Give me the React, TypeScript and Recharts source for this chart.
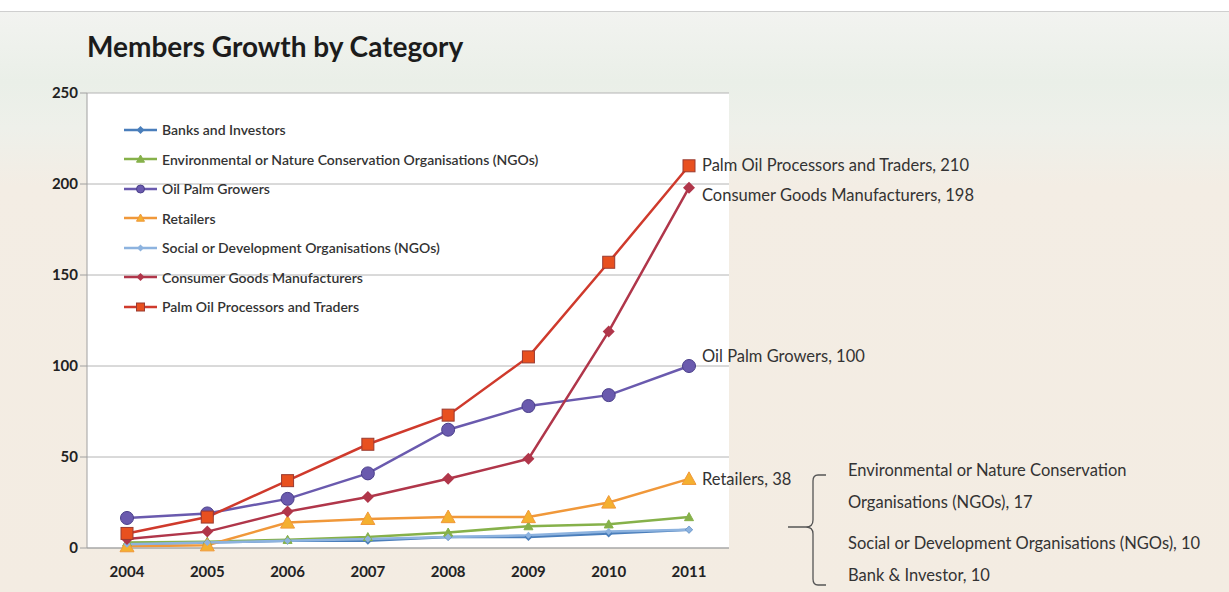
import React from 'react';
import { LineChart, Line, XAxis, YAxis, CartesianGrid, Legend, LabelList } from 'recharts';

const years = ['2004', '2005', '2006', '2007', '2008', '2009', '2010', '2011'];

const banks = [2, 3, 4, 4, 6, 6, 8, 10];
const envNgos = [3, 3.5, 4.5, 6, 8.5, 12, 13, 17];
const growers = [16.5, 19, 27, 41, 65, 78, 84, 100];
const retailers = [1, 1.5, 14, 16, 17, 17, 25, 38];
const socialNgos = [2, 3, 4, 5, 6, 7, 9, 10];
const consumerGoods = [5, 9, 20, 28, 38, 49, 119, 198];
const palmOil = [8, 17, 37, 57, 73, 105, 157, 210];

const yTicks = [0, 50, 100, 150, 200, 250];

type Shape = 'diamond' | 'triangle' | 'circle' | 'square';

const series = [
  { key: 'banks', name: 'Banks and Investors', values: banks, color: '#4a7ebb', shape: 'diamond' as Shape, size: 8, width: 2.5 },
  { key: 'env', name: 'Environmental or Nature Conservation Organisations (NGOs)', values: envNgos, color: '#86b14a', shape: 'triangle' as Shape, size: 9, width: 2.5 },
  { key: 'growers', name: 'Oil Palm Growers', values: growers, color: '#6a5aae', shape: 'circle' as Shape, size: 13, width: 2.5 },
  { key: 'retailers', name: 'Retailers', values: retailers, color: '#f0983a', shape: 'triangle' as Shape, size: 14, width: 2.5 },
  { key: 'social', name: 'Social or Development Organisations (NGOs)', values: socialNgos, color: '#8db3df', shape: 'diamond' as Shape, size: 7, width: 2.5 },
  { key: 'consumer', name: 'Consumer Goods Manufacturers', values: consumerGoods, color: '#b0364a', shape: 'diamond' as Shape, size: 12, width: 2.5 },
  { key: 'palm', name: 'Palm Oil Processors and Traders', values: palmOil, color: '#cf3a2c', shape: 'square' as Shape, size: 12, width: 2.5 },
];

// labels shown next to the 2011 point, with a small vertical nudge
const endLabels: Record<string, number> = { palm: 0, consumer: 8, growers: -9, retailers: 1 };

const data = years.map((year, i) => {
  const row: Record<string, string | number> = { year };
  series.forEach((s) => {
    row[s.key] = s.values[i];
  });
  return row;
});

const font = 'Lato, "Open Sans", sans-serif';

function marker(shape: Shape, cx: number, cy: number, size: number, color: string, key?: string) {
  const h = size / 2;
  if (shape === 'circle') {
    return <circle key={key} cx={cx} cy={cy} r={h} fill={color} stroke="#4a3f8a" strokeWidth={1} />;
  }
  if (shape === 'square') {
    return <rect key={key} x={cx - h} y={cy - h} width={size} height={size} fill="#e8501f" stroke="#9a3a30" strokeWidth={1} />;
  }
  if (shape === 'triangle') {
    return (
      <polygon
        key={key}
        points={`${cx},${cy - h} ${cx + h},${cy + h * 0.8} ${cx - h},${cy + h * 0.8}`}
        fill={color === '#f0983a' ? '#f4b030' : color}
        stroke={color}
        strokeWidth={1}
      />
    );
  }
  return <polygon key={key} points={`${cx},${cy - h} ${cx + h},${cy} ${cx},${cy + h} ${cx - h},${cy}`} fill={color} />;
}

function makeDot(shape: Shape, size: number, color: string) {
  return (props: any) => {
    const { cx, cy, index } = props;
    if (cx == null || cy == null) return <g key={`d-${index}`} />;
    return marker(shape, cx, cy, size, color, `d-${index}`);
  };
}

function makeEndLabel(name: string, dy: number) {
  return (props: any) => {
    const { x, y, index, value } = props;
    if (index !== years.length - 1) return null;
    return (
      <text x={x + 13} y={y + dy} dy={5} fontSize={16.5} fill="#333" fontFamily={font}>
        {`${name}, ${value}`}
      </text>
    );
  };
}

function LegendContent() {
  return (
    <div style={{ fontFamily: font, fontSize: 14, fontWeight: 600, color: '#333' }}>
      {series.map((s) => (
        <div key={s.key} style={{ display: 'flex', alignItems: 'center', height: 29.5 }}>
          <svg width={36} height={14} style={{ marginRight: 4 }}>
            <line x1={2} y1={7} x2={35} y2={7} stroke={s.color} strokeWidth={2.5} />
            {marker(s.shape, 18.5, 7, Math.min(s.size, 8), s.color)}
          </svg>
          <span>{s.name}</span>
        </div>
      ))}
    </div>
  );
}

export default function App() {
  const env = envNgos[envNgos.length - 1];
  const social = socialNgos[socialNgos.length - 1];
  const bank = banks[banks.length - 1];

  return (
    <div
      style={{
        position: 'absolute',
        left: 0,
        top: 0,
        width: 1229,
        height: 592,
        background: '#fff',
        overflow: 'hidden',
      }}
    >
      <div
        style={{
          position: 'absolute',
          left: 0,
          top: 11,
          width: 1229,
          height: 581,
          borderTop: '1px solid #cfcfcf',
          background:
            'linear-gradient(to bottom, #f2f3f0 0%, #eaefe8 12%, #eef0ea 20%, #f3ede4 30%, #f3ece2 100%)',
        }}
      />
      <div
        style={{
          position: 'absolute',
          left: 87,
          top: 29,
          fontFamily: font,
          fontWeight: 700,
          fontSize: 28,
          color: '#1c1c1c',
        }}
      >
        Members Growth by Category
      </div>
      <div style={{ position: 'absolute', left: 0, top: 0 }}>
        <LineChart width={1229} height={592} data={data} margin={{ top: 93, right: 500, bottom: 14, left: 27 }}>
          <CartesianGrid vertical={false} stroke="#b4b4b4" fill="#ffffff" fillOpacity={1} />
          <XAxis
            dataKey="year"
            padding={{ left: 40, right: 40 }}
            height={30}
            stroke="#a0a0a0"
            tickLine={false}
            tick={{ fill: '#222', fontSize: 15, fontFamily: font, fontWeight: 700 }}
            tickMargin={12}
          />
          <YAxis
            width={60}
            domain={[0, 250]}
            ticks={yTicks}
            stroke="#a0a0a0"
            tickSize={7}
            tick={{ fill: '#222', fontSize: 15, fontFamily: font, fontWeight: 700 }}
          />
          <Legend
            layout="vertical"
            align="center"
            verticalAlign="middle"
            content={<LegendContent />}
            wrapperStyle={{ left: 122, top: 115, width: 470 }}
          />
          {series.map((s) => (
            <Line
              key={s.key}
              dataKey={s.key}
              name={s.name}
              stroke={s.color}
              strokeWidth={s.width}
              dot={makeDot(s.shape, s.size, s.color)}
              activeDot={false}
              isAnimationActive={false}
            >
              {endLabels[s.key] !== undefined && (
                <LabelList dataKey={s.key} content={makeEndLabel(s.name, endLabels[s.key])} />
              )}
            </Line>
          ))}
        </LineChart>
      </div>
      <svg style={{ position: 'absolute', left: 0, top: 0 }} width={1229} height={592}>
        <path
          d="M826 475 L818 475 Q813 475 813 481 L813 520 Q813 527 806 527 L788 527 M806 527 Q813 527 813 534 L813 579 Q813 585 818 585 L826 585"
          fill="none"
          stroke="#555"
          strokeWidth={1.3}
        />
        <g fontFamily={font} fontSize={16.5} fill="#333">
          <text x={848} y={476}>Environmental or Nature Conservation</text>
          <text x={848} y={508}>{`Organisations (NGOs), ${env}`}</text>
          <text x={848} y={549}>{`Social or Development Organisations (NGOs), ${social}`}</text>
          <text x={848} y={581}>{`Bank & Investor, ${bank}`}</text>
        </g>
      </svg>
    </div>
  );
}
